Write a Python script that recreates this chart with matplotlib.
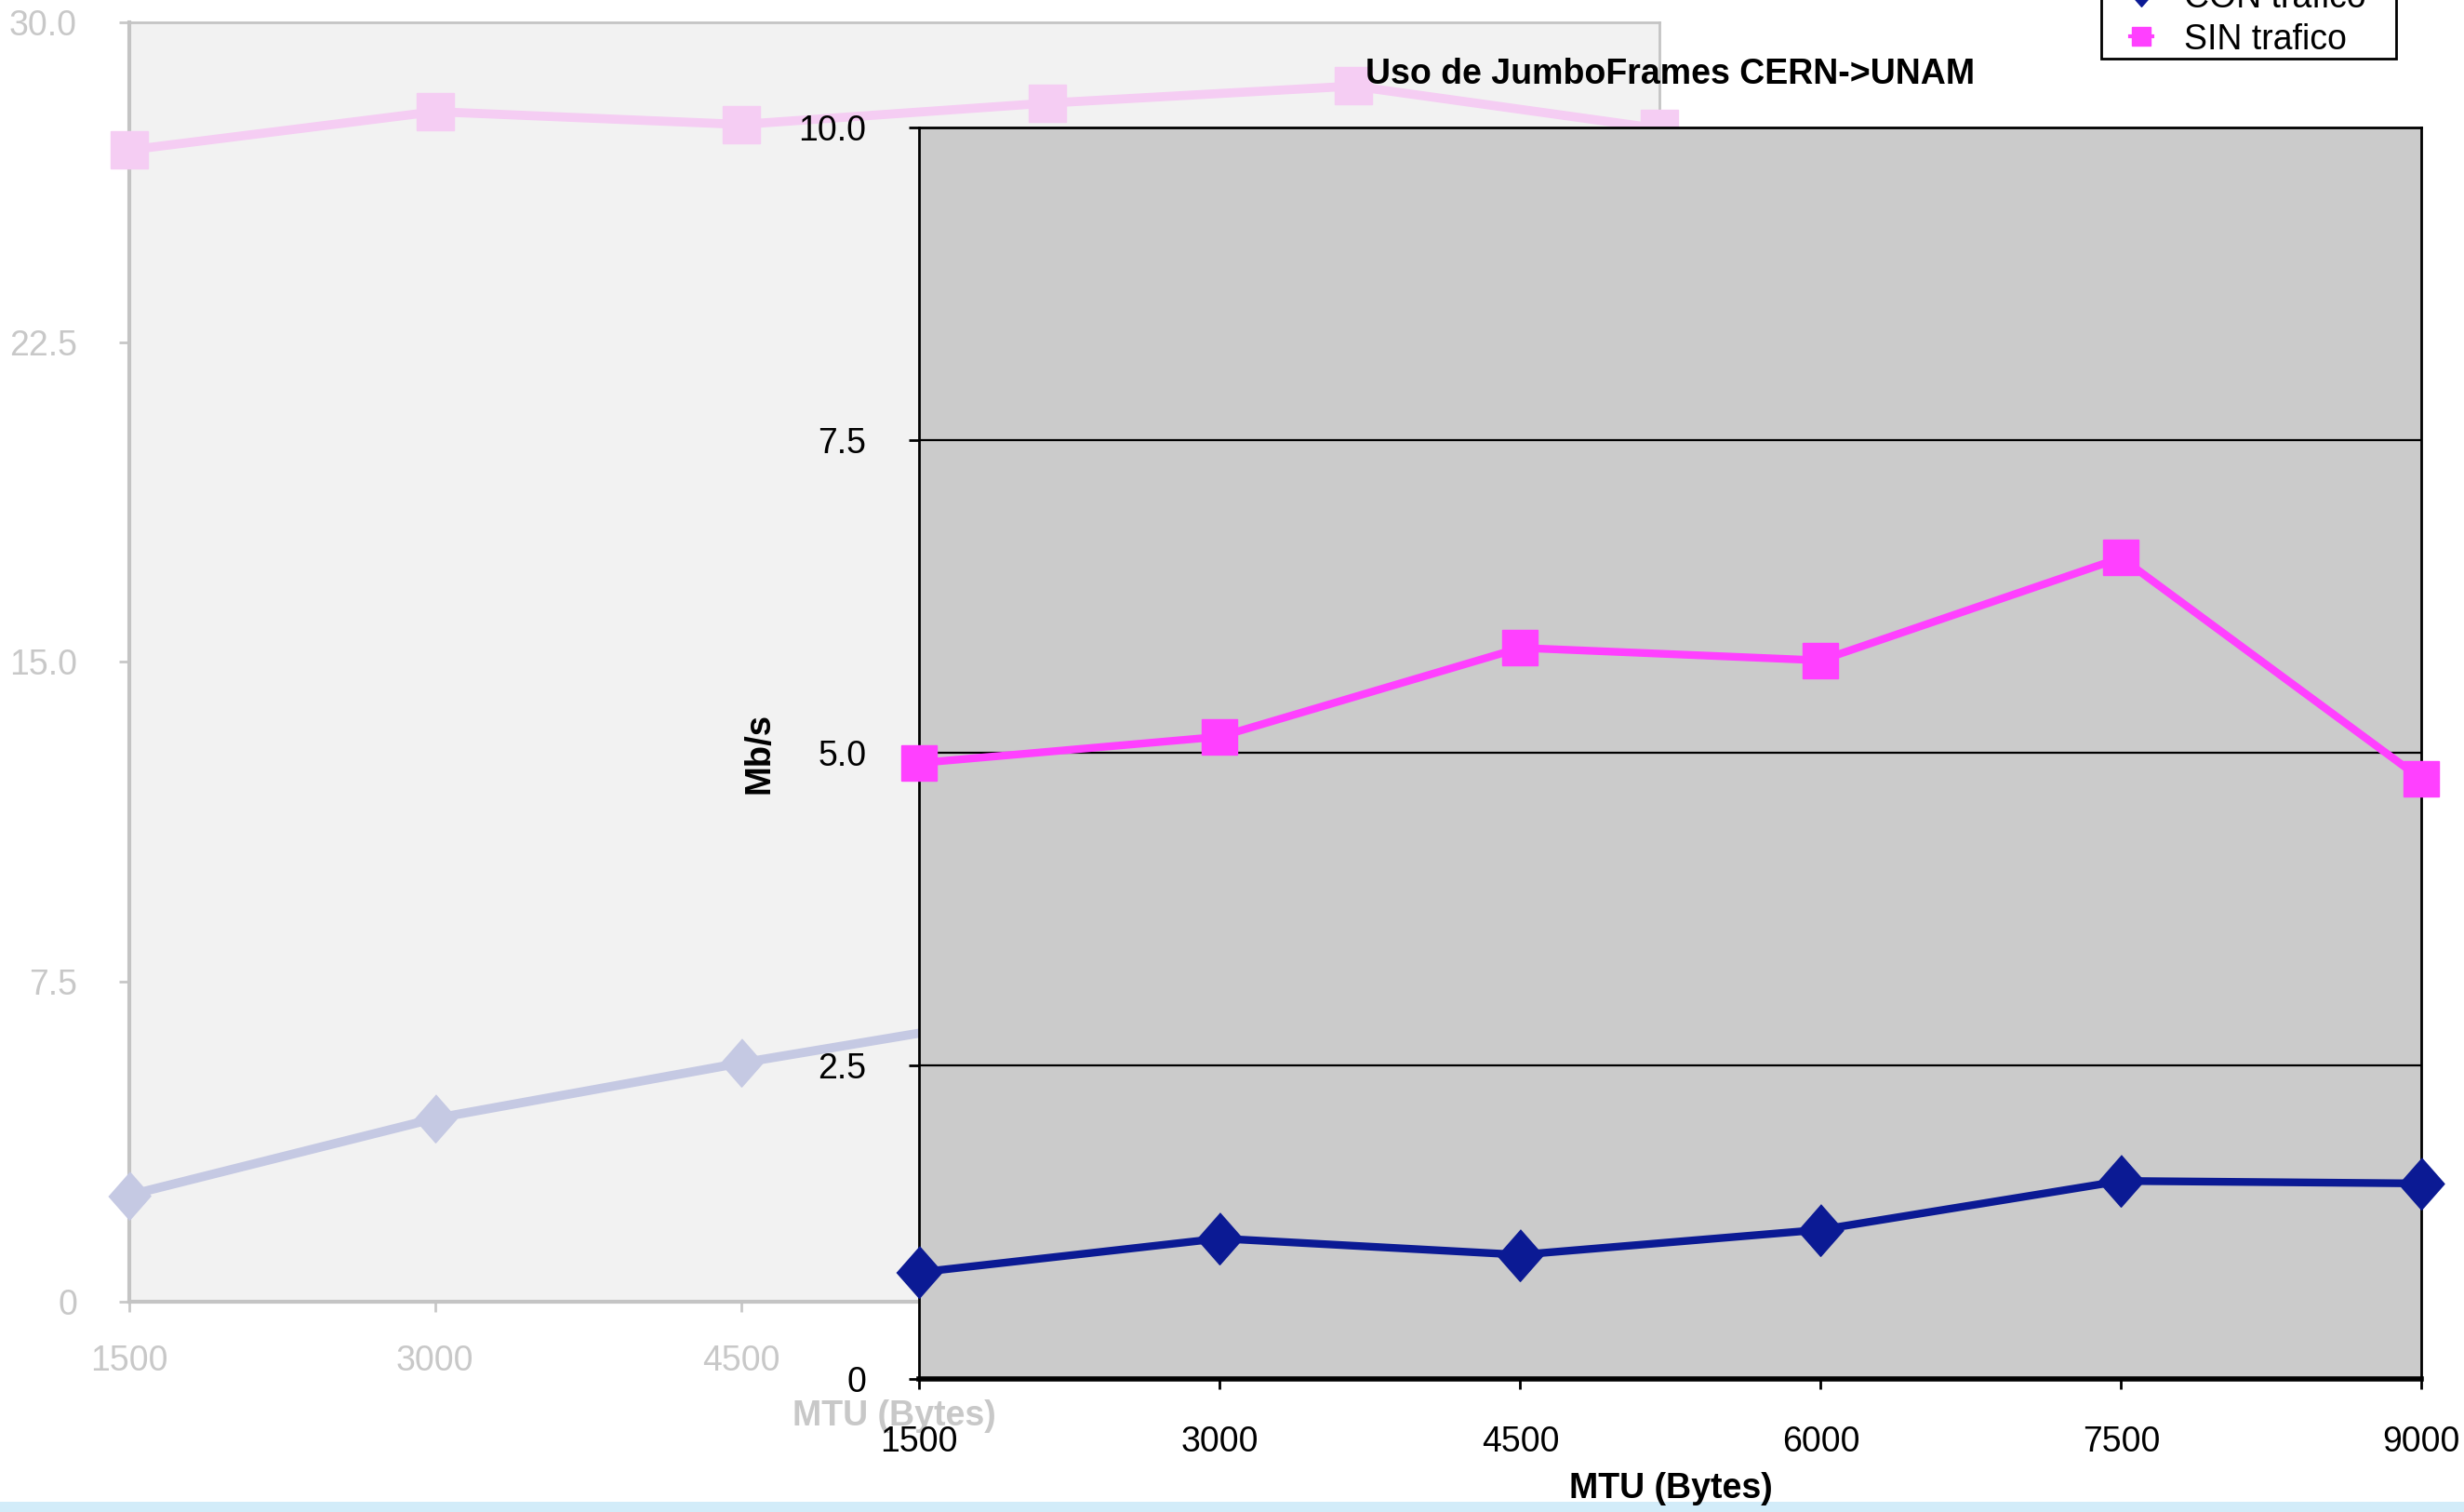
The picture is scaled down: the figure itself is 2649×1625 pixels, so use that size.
import matplotlib
matplotlib.use('Agg')
import matplotlib.pyplot as plt
from matplotlib.lines import Line2D
from matplotlib.patches import Rectangle
from matplotlib.legend_handler import HandlerLine2D
from matplotlib.ticker import FuncFormatter

plt.rcParams['font.family'] = ['Liberation Sans', 'DejaVu Sans']

# MTU sizes tested
mtu = [1500, 3000, 4500, 6000, 7500, 9000]

# earlier run, drawn faded in the back (0-30 Mb/s scale)
old_con = [2.5, 4.3, 5.6, 6.8, 7.6, 8.0]
old_sin = [27.0, 27.9, 27.6, 28.1, 28.5, 27.5]

# CERN->UNAM throughput (Mb/s)
con_trafico = [0.85, 1.12, 0.99, 1.19, 1.58, 1.56]
sin_trafico = [4.92, 5.13, 5.84, 5.74, 6.56, 4.79]

bg_yticks = [0, 7.5, 15.0, 22.5, 30.0]
fg_yticks = [0, 2.5, 5.0, 7.5, 10.0]

# Excel-like diamond, a bit taller than wide
diamond = [(0, 1), (0.88, 0), (0, -1), (-0.88, 0)]


def fmt(v, pos):
    return '0' if v == 0 else f'{v:.1f}'


class ShortStub(HandlerLine2D):
    """Legend line with only short stubs either side of the marker."""

    def create_artists(self, legend, orig_handle, xdescent, ydescent,
                       width, height, fontsize, trans):
        artists = super().create_artists(legend, orig_handle, xdescent,
                                         ydescent, width, height, fontsize,
                                         trans)
        line = artists[0]
        x = line.get_xdata()
        mid = x[len(x) // 2]
        stub = 0.32 * fontsize
        line.set_xdata([mid - stub, mid, mid + stub])
        return artists


fig = plt.figure(figsize=(26.49, 16.25), dpi=100)

# thin light-blue strip along the bottom edge
fig.patches.append(Rectangle((0, 0), 1, 0.0065, transform=fig.transFigure,
                             facecolor='#d2ecf9', edgecolor='none', zorder=-1))

# ---- faded chart in the back ----
bg = fig.add_axes([0.0523, 0.139, 0.6212, 0.8464], zorder=0)
bg.set_facecolor('#f2f2f2')
bg.plot(mtu, old_sin, color='#f5cdf3', lw=7, marker='s', ms=29,
        clip_on=False, zorder=3)
bg.plot(mtu, old_con, color='#c5c9e3', lw=7, marker=diamond, ms=37,
        clip_on=False, zorder=3)
bg.set_xlim(1500, 9000)
bg.set_ylim(0, 30)
bg.set_xticks(mtu)
bg.set_yticks(bg_yticks)
bg.yaxis.set_major_formatter(FuncFormatter(fmt))
for s in bg.spines.values():
    s.set_color('#c4c4c4')
    s.set_linewidth(2)
bg.spines['left'].set_linewidth(3)
bg.spines['bottom'].set_linewidth(3)
bg.tick_params(axis='both', colors='#c8c8c8', labelcolor='#c8c8c8',
               labelsize=27, length=8, width=2)
bg.tick_params(axis='y', pad=32)
bg.tick_params(axis='x', pad=25)
bg.set_xlabel('MTU (Bytes)', fontsize=27, fontweight='bold', color='#c8c8c8')
bg.xaxis.set_label_coords(0.5, -0.076)

# ---- main chart ----
fg = fig.add_axes([0.3731, 0.0882, 0.6097, 0.8276], zorder=2)
fg.set_facecolor('#cbcbcb')
fg.set_axisbelow(True)
fg.yaxis.grid(True, color='black', lw=1.6)
fg.plot(mtu, sin_trafico, color='#ff40ff', lw=6, marker='s', ms=27,
        clip_on=False, zorder=3)
fg.plot(mtu, con_trafico, color='#0b1a94', lw=6, marker=diamond, ms=40,
        clip_on=False, zorder=4)
fg.set_xlim(1500, 9000)
fg.set_ylim(0, 10)
fg.set_xticks(mtu)
fg.set_yticks(fg_yticks)
fg.yaxis.set_major_formatter(FuncFormatter(fmt))
for s in fg.spines.values():
    s.set_color('black')
    s.set_linewidth(2)
fg.spines['bottom'].set_linewidth(4)
fg.tick_params(axis='both', colors='black', labelsize=27, length=8, width=2)
fg.tick_params(axis='y', pad=33)
fg.tick_params(axis='x', pad=28)
fg.set_xlabel('MTU (Bytes)', fontsize=27, fontweight='bold')
fg.xaxis.set_label_coords(0.5, -0.0745)
fg.set_ylabel('Mb/s', fontsize=27.5, fontweight='bold')
fg.yaxis.set_label_coords(-0.095, 0.5)
fg.set_title('Uso de JumboFrames CERN->UNAM', fontsize=27, fontweight='bold',
             pad=34)

# legend box (runs off the top edge) with the entries placed inside it
fig.patches.append(Rectangle((0.8527, 0.9615), 0.1199, 0.06,
                             transform=fig.transFigure, facecolor='white',
                             edgecolor='black', linewidth=2, zorder=3))
handles = [
    Line2D([], [], color='#0b1a94', lw=3, marker=diamond, ms=17),
    Line2D([], [], color='#ff40ff', lw=3, marker='s', ms=14),
]
leg = fig.legend(handles, ['CON trafico', 'SIN trafico'],
                 loc='lower left', bbox_to_anchor=(0.8554, 0.9627),
                 fontsize=27, frameon=False, handlelength=1.9,
                 handletextpad=0.3, borderpad=0, labelspacing=0.22,
                 borderaxespad=0,
                 handler_map={Line2D: ShortStub(numpoints=1)})
leg.set_zorder(4)

fig.savefig('out.png', dpi=100)
